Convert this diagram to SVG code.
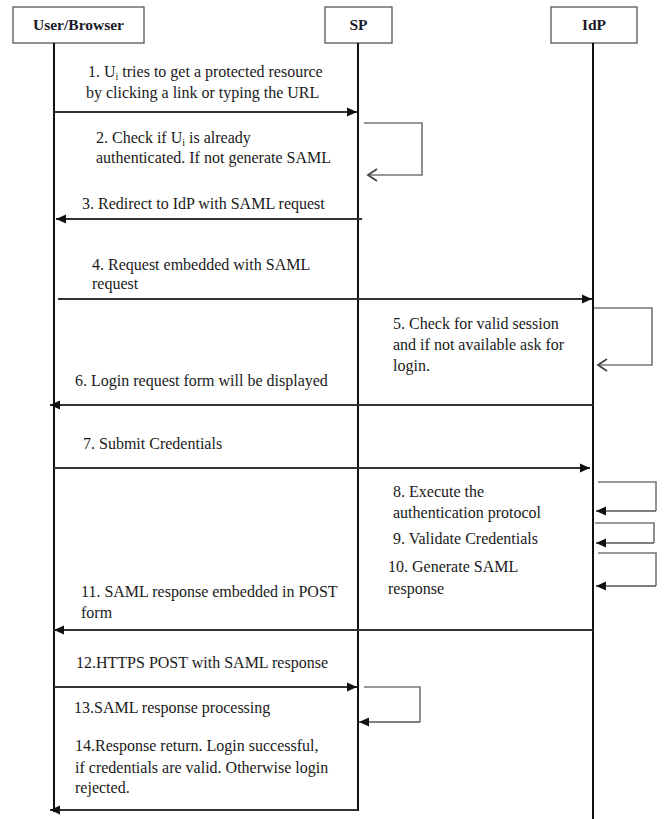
<svg xmlns="http://www.w3.org/2000/svg" width="664" height="819" viewBox="0 0 664 819">
  <style>
    .box { fill: #ffffff; stroke: #555555; stroke-width: 1.3; }
    .head { font-family: "Liberation Serif", "Times New Roman", serif; font-size: 15.5px; font-weight: bold; fill: #1a1a2a; text-anchor: middle; }
    .life { stroke: #111111; stroke-width: 2; fill: none; }
    .msg { stroke: #333333; stroke-width: 2; fill: none; }
    .loop { stroke: #777777; stroke-width: 1.6; fill: none; }
    .loopd { stroke: #555555; stroke-width: 1.6; fill: none; }
    .lbl { font-family: "Liberation Serif", "Times New Roman", serif; font-size: 16px; fill: #1a1a1a; }
    .sub { font-size: 10px; }
  </style>
  <defs>
    <marker id="tri" markerUnits="userSpaceOnUse" markerWidth="12" markerHeight="10" refX="10" refY="5" orient="auto">
      <path d="M0,0.5 L10,5 L0,9.5 Z" fill="#111111"/>
    </marker>
    <marker id="open" markerUnits="userSpaceOnUse" markerWidth="14" markerHeight="14" refX="10" refY="7" orient="auto">
      <path d="M1,1 L10,7 L1,13" fill="none" stroke="#444444" stroke-width="1.8"/>
    </marker>
  </defs>

  <!-- participants -->
  <g id="user">
    <rect class="box" x="13" y="7" width="131" height="36"/>
    <text class="head" x="78.5" y="30">User/Browser</text>
    <line class="life" x1="54" y1="43" x2="54" y2="812"/>
  </g>
  <g id="sp">
    <rect class="box" x="325" y="7" width="67" height="36"/>
    <text class="head" x="358.5" y="30">SP</text>
    <line class="life" x1="358" y1="43" x2="358" y2="811"/>
  </g>
  <g id="idp">
    <rect class="box" x="551" y="7" width="86" height="36"/>
    <text class="head" x="594" y="30">IdP</text>
    <line class="life" x1="593" y1="43" x2="593" y2="819"/>
  </g>

  <!-- message connectors -->
  <g id="connectors">
    <line class="msg" x1="54" y1="112" x2="357" y2="112" marker-end="url(#tri)"/>
    <path class="loop" d="M364,123 H422 V175 H368" marker-end="url(#open)"/>
    <line class="msg" x1="362" y1="219" x2="56" y2="219" marker-end="url(#tri)"/>
    <line class="msg" x1="58" y1="299" x2="592" y2="299" marker-end="url(#tri)"/>
    <path class="loop" d="M594,308 H652 V365 H598" marker-end="url(#open)"/>
    <line class="msg" x1="593" y1="405" x2="50" y2="405" marker-end="url(#tri)"/>
    <line class="msg" x1="54" y1="468" x2="590" y2="468" marker-end="url(#tri)"/>
    <path class="loop" d="M598,482 H656 V511" />
    <line class="loopd" x1="656" y1="511" x2="596" y2="511" marker-end="url(#tri)"/>
    <path class="loop" d="M595,523 H654 V543" />
    <line class="loopd" x1="654" y1="543" x2="596" y2="543" marker-end="url(#tri)"/>
    <path class="loop" d="M598,553 H656 V586" />
    <line class="loopd" x1="656" y1="586" x2="596" y2="586" marker-end="url(#tri)"/>
    <line class="msg" x1="593" y1="630" x2="54" y2="630" marker-end="url(#tri)"/>
    <line class="msg" x1="54" y1="687" x2="357" y2="687" marker-end="url(#tri)"/>
    <path class="loop" d="M364,687 H420 V722" />
    <line class="loopd" x1="420" y1="722" x2="359" y2="722" marker-end="url(#tri)"/>
    <line class="msg" x1="358" y1="810" x2="50" y2="810" marker-end="url(#tri)"/>
  </g>

  <!-- message labels -->
  <g id="labels">
    <text class="lbl" x="88" y="77">1. U<tspan class="sub" dy="3">i</tspan><tspan dy="-3"> tries to get a protected resource</tspan></text>
    <text class="lbl" x="86" y="98">by clicking a link or typing the URL</text>
    <text class="lbl" x="96" y="143">2. Check if U<tspan class="sub" dy="3">i</tspan><tspan dy="-3"> is already</tspan></text>
    <text class="lbl" x="96" y="163">authenticated. If not generate SAML</text>
    <text class="lbl" x="82" y="209">3. Redirect to IdP with SAML request</text>
    <text class="lbl" x="92" y="270">4. Request embedded with SAML</text>
    <text class="lbl" x="92" y="289">request</text>
    <text class="lbl" x="393" y="329">5. Check for valid session</text>
    <text class="lbl" x="393" y="350">and if not available ask for</text>
    <text class="lbl" x="393" y="371">login.</text>
    <text class="lbl" x="75" y="386">6. Login request form will be displayed</text>
    <text class="lbl" x="83" y="449">7. Submit Credentials</text>
    <text class="lbl" x="393" y="497">8. Execute the</text>
    <text class="lbl" x="393" y="518">authentication protocol</text>
    <text class="lbl" x="393" y="544">9. Validate Credentials</text>
    <text class="lbl" x="388" y="572">10. Generate SAML</text>
    <text class="lbl" x="388" y="594">response</text>
    <text class="lbl" x="81" y="597">11. SAML response embedded in POST</text>
    <text class="lbl" x="81" y="618">form</text>
    <text class="lbl" x="76" y="668">12.HTTPS POST with SAML response</text>
    <text class="lbl" x="74" y="713">13.SAML response processing</text>
    <text class="lbl" x="75" y="751">14.Response return. Login successful,</text>
    <text class="lbl" x="75" y="773">if credentials are valid. Otherwise login</text>
    <text class="lbl" x="75" y="793">rejected.</text>
  </g>
</svg>
